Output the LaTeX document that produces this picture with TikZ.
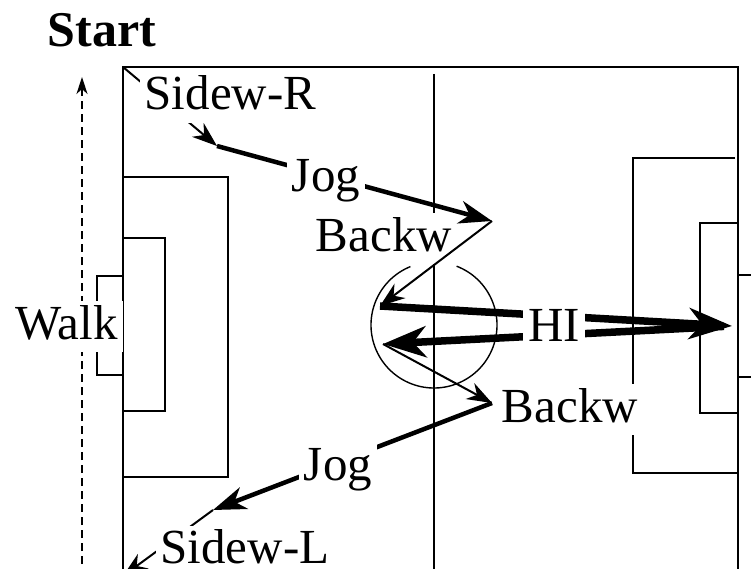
\documentclass[tikz,border=0pt]{standalone}
\usepackage{fontspec}
\setmainfont{Liberation Serif}
\usetikzlibrary{arrows.meta}
\begin{document}
\begin{tikzpicture}[x=1pt,y=-1pt,
  field/.style={line width=1.7pt},
  ring/.style={line width=1.4pt},
  lab/.style={fill=white, inner xsep=5pt, inner ysep=3pt, text height=35pt, text depth=10pt, anchor=base, font=\fontsize{49}{55}\selectfont},
  thinarrow/.style={line width=2pt, -{Stealth[length=25pt,width=18pt,inset=8pt]}},
  jogarrow/.style={line width=4.5pt, -{Stealth[length=33pt,width=23pt,inset=10pt]}},
  hiarrow/.style={line width=7.5pt, -{Stealth[length=43pt,width=31pt,inset=13pt]}},
  walkarrow/.style={line width=1.4pt, dash pattern=on 8pt off 5pt, -{Stealth[length=17pt,width=11pt,inset=5pt]}},
]
\useasboundingbox (0,0) rectangle (751,569);
\clip (0,0) rectangle (751,569);

% coordinates
\coordinate (C1) at (123,67);
\coordinate (C2) at (123,576);
\coordinate (P1) at (217,146);
\coordinate (P2) at (492,221);
\coordinate (P3) at (380,306);
\coordinate (G) at (732,326);
\coordinate (P4) at (383,344);
\coordinate (P5) at (492,403);
\coordinate (P6) at (213,510);
\coordinate (W0) at (82,590);
\coordinate (W1) at (82,77);
\coordinate (CC) at (434,325);

% field
\draw[field] (123,600) -- (123,67) -- (738,67) -- (738,600);
\draw[field] (123,177) -| (228,477) -- (123,477);
\draw[field] (123,238) -| (165,411) -- (123,411);
\draw[field] (123,276) -| (97,375) -- (123,375);
\draw[field] (735,158) -| (633,473) -- (738,473);
\draw[field] (738,223) -| (700,413) -- (738,413);
\draw[field] (738,275) -- (770,275) (738,377) -- (770,377);
\draw[field] (434,74) -- (434,600);
\draw[ring] (CC) ++(291:63) arc[start angle=291, end angle=608, radius=63];

\node[lab] (b1) at (384,251) {Backw};

% run path
\draw[thinarrow] (C1) -- (P1);
\draw[jogarrow] (P1) -- (P2);
\draw[thinarrow] (P2) -- (P3);
\draw[hiarrow] (P3) -- (G);
\draw[hiarrow, shorten <=8pt] (G) -- (P4);
\draw[thinarrow] (P4) -- (P5);
\draw[jogarrow] (P5) -- (P6);
\draw[thinarrow] (P6) -- (C2);
\draw[walkarrow] (W0) -- (W1);

% labels
\node[lab] (sr) at (230.5,110) {Sidew-R};
\node[lab] (j1) at (326,192) {Jog};
\node[lab] (hi) at (554,341) {HI};
\node[lab] (b2) at (570,422) {Backw};
\node[lab] (j2) at (338,480) {Jog};
\node[lab, text depth=1pt, inner ysep=2pt] (sl) at (245,563) {Sidew-L};
\node[lab] (wk) at (66.5,339) {Walk};
\node[anchor=base, inner sep=0pt, font=\fontsize{50}{55}\selectfont\bfseries] (st) at (102,47) {Start};
\end{tikzpicture}
\end{document}
